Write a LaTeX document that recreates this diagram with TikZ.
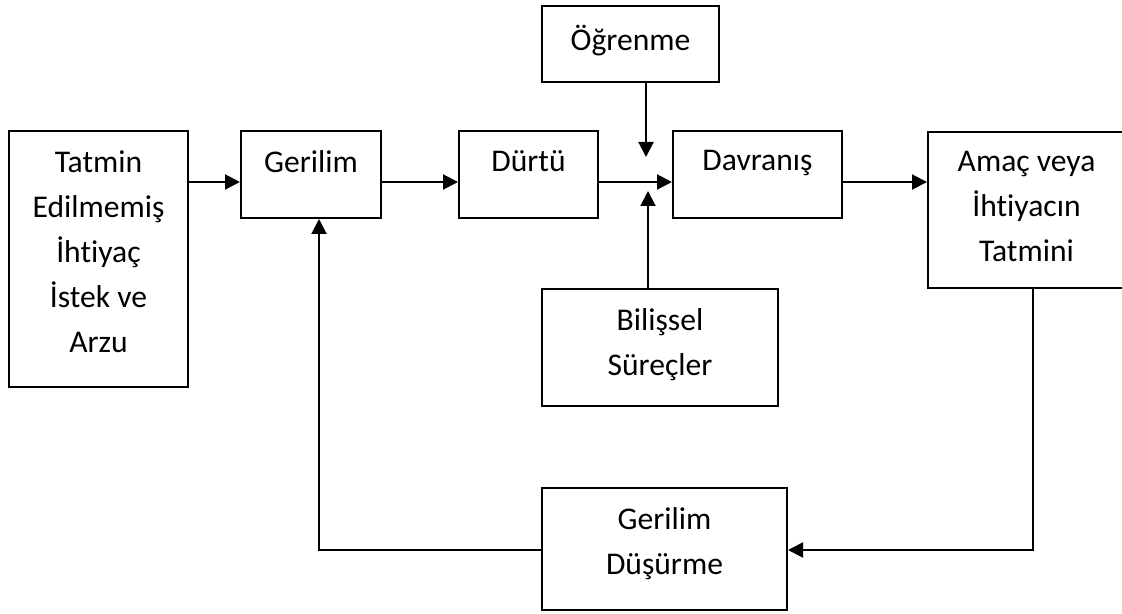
\documentclass[tikz,border=0pt]{standalone}
\usepackage{fontspec}
\setmainfont{Carlito}[Ligatures={NoCommon,NoRare,NoContextual}]
\usepackage{tikz}
\usetikzlibrary{arrows.meta,fit}
\tikzset{every picture/.append style={font=\fontsize{15.8}{22.5}\selectfont}}
\tikzset{
  box/.style={draw,line width=1pt,inner sep=0pt},
  boxtext/.style={anchor=north,align=center,inner sep=0pt},
  arr/.style={line width=1pt,-{Triangle[length=7.5pt,width=7.5pt]}}
}

\begin{document}
\begin{tikzpicture}[x=0.5pt,y=-0.5pt]
    \useasboundingbox (0,0) rectangle (1122,614);
    % boxes, corners in pixels
    \node[box,fit={(9,131) (188,387)}] (need) {};
    \node[box,fit={(241,131) (381,218)}] (gerilim) {};
    \node[box,fit={(459,131) (598,218)}] (durtu) {};
    \node[box,fit={(673,131) (842,218)}] (davranis) {};
    \node[box,fit={(928,132) (1125,288)}] (amac) {};
    \node[box,fit={(542,6) (719,82)}] (ogrenme) {};
    \node[box,fit={(542,289) (778,406)}] (bilissel) {};
    \node[box,fit={(542,488) (787,610)}] (dusurme) {};
    % texts
    \node[boxtext] (needT) at ([yshift=-10pt]need.north) {Tatmin\\Edilmemiş\\İhtiyaç\\İstek ve\\Arzu};
    \node[boxtext] (gerilimT) at ([yshift=-10pt]gerilim.north) {Gerilim};
    \node[boxtext] (durtuT) at ([yshift=-10pt]durtu.north) {Dürtü};
    \node[boxtext] (davranisT) at ([yshift=-10pt]davranis.north) {Davranış};
    \node[boxtext] (amacT) at ([yshift=-10pt]amac.north) {Amaç veya\\İhtiyacın\\Tatmini};
    \node[boxtext] (ogrenmeT) at ([yshift=-10pt]ogrenme.north) {Öğrenme};
    \node[boxtext] (bilisselT) at ([yshift=-10pt]bilissel.north) {Bilişsel\\Süreçler};
    \node[boxtext] (dusurmeT) at ([yshift=-10pt]dusurme.north) {Gerilim\\Düşürme};
    % free ends and bends
    \coordinate (row) at (0,182);
    \coordinate (ogrEnd) at (646,157);
    \coordinate (bilEnd) at (648,191);
    \coordinate (loopR) at (1033,550);
    \coordinate (loopL) at (319,550);
    % connectors
    \draw[arr] (need.east |- row) -- (gerilim.west |- row);
    \draw[arr] (gerilim.east |- row) -- (durtu.west |- row);
    \draw[arr] (durtu.east |- row) -- (davranis.west |- row);
    \draw[arr] (davranis.east |- row) -- (amac.west |- row);
    \draw[arr] (ogrenme.south -| ogrEnd) -- (ogrEnd);
    \draw[arr] (bilissel.north -| bilEnd) -- (bilEnd);
    \draw[arr] (amac.south -| loopR) -- (loopR) -- (dusurme.east |- loopR);
    \draw[arr] (dusurme.west |- loopL) -- (loopL) -- (gerilim.south -| loopL);
\end{tikzpicture}
\end{document}
